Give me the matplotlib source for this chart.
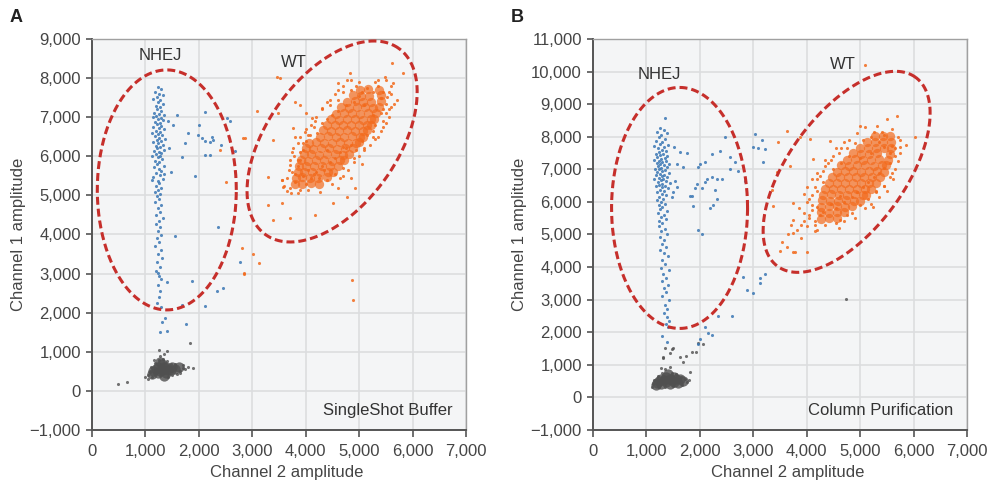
import numpy as np
import matplotlib
matplotlib.use('Agg')
import matplotlib.pyplot as plt
from matplotlib.ticker import FuncFormatter, MultipleLocator

plt.rcParams['font.family'] = ['Liberation Sans', 'DejaVu Sans']

# ---- panel A (SingleShot Buffer) ----
nhej_a = [(1230,7780),(1290,7720),(1180,7650),(1260,7600),(1320,7560),(1210,7510),(1150,7460),(1280,7440),
          (1240,7380),(1330,7330),(1190,7290),(1270,7250),(1220,7200),(1300,7160),(1160,7120),(1250,7090),
          (1350,7050),(1200,7020),(1290,6990),(1140,7000),(1240,6950),(1320,6920),(1180,6890),(1270,6860),
          (1220,6820),(1300,6780),(1150,6750),(1250,6720),(1340,6690),(1200,6650),(1280,6620),(1130,6600),
          (1230,6570),(1310,6540),(1180,6510),(1260,6480),(1360,6450),(1210,6420),(1290,6390),(1140,6360),
          (1240,6330),(1320,6300),(1190,6270),(1270,6240),(1220,6200),(1350,6170),(1160,6140),(1250,6110),
          (1300,6080),(1200,6050),(1280,6020),(1130,6000),(1240,5970),(1310,5930),(1180,5890),(1260,5850),
          (1220,5800),(1340,5760),(1160,5720),(1250,5680),(1290,5620),(1200,5570),(1270,5520),(1150,5480),
          (1320,5430),(1230,5380),(1260,5310),(1190,5250),(1300,5200),(1240,5140),(1170,5080),(1280,5030),
          (1220,4980),(1350,5560),(1120,5400),(1260,4900),(1180,4820),(1300,4750),(1230,4680),(1270,4580),
          (1200,4500),(1320,4430),(1250,4350),(1190,4260),(1280,4180),(1230,4100),(1300,3990),(1210,3900),
          (1260,3800),(1180,3700),(1290,3610),(1240,3500),(1310,3400),(1220,3300),(1270,3180),(1200,3060),
          (1250,2950),(1300,2850),(1230,2700),(1280,2550),(1250,2400),(1220,2250),(1300,2150),(1240,3020),
          (1400,2790),(1310,1770),(1370,1870),(1400,1540),(1270,1510),(1690,2190),(1760,1720),(2120,2170),
          (1520,6800),(1800,6600),(1740,6340),(1690,5980),(1990,6545),(2050,6480),(2120,6400),(2200,6370),
          (2270,6420),(2240,6500),(2120,7130),(2530,6980),(2590,6900),(2680,6140),(2120,6030),(2210,6030),
          (1930,5500),(2360,4190),(1550,3960),(1870,2810),(2340,2560),(2450,2630),(2770,3300),(2000,6800),
          (2420,6300),(1600,7050),(1450,6200),(1420,6900),(1480,5600)]

wt_a_core = [(3800,5300),(3930,5290),(4090,5310),(4250,5300),
             (3820,5450),(3930,5460),(4080,5440),(4230,5450),(4390,5460),
             (3850,5600),(3960,5590),(4110,5610),(4260,5600),(4410,5590),(4520,5610),
             (3880,5760),(4000,5760),(4150,5740),(4300,5750),(4450,5760),(4600,5740),
             (3920,5900),(4040,5890),(4190,5910),(4340,5900),(4490,5890),(4640,5910),(4720,5900),
             (3960,6050),(4090,6060),(4240,6040),(4390,6050),(4540,6060),(4690,6040),(4810,6050),
             (4010,6200),(4140,6190),(4290,6210),(4440,6200),(4590,6190),(4740,6210),(4890,6200),
             (4070,6350),(4190,6360),(4340,6340),(4490,6350),(4640,6360),(4790,6340),(4940,6350),(5000,6360),
             (4260,6490),(4410,6510),(4560,6500),(4710,6490),(4860,6510),(5010,6500),(5080,6490),
             (4330,6660),(4480,6640),(4630,6650),(4780,6660),(4930,6640),(5080,6650),(5150,6660),
             (4400,6790),(4550,6810),(4700,6800),(4850,6790),(5000,6810),(5150,6800),(5220,6790),
             (4480,6960),(4630,6940),(4780,6950),(4930,6960),(5080,6940),(5230,6950),(5280,6960),
             (4570,7090),(4720,7110),(4870,7100),(5020,7090),(5170,7110),(5320,7100),
             (4660,7260),(4810,7240),(4960,7250),(5110,7260),(5260,7240),(5380,7250),
             (4770,7390),(4920,7410),(5070,7400),(5220,7390),(5400,7410),
             (4880,7560),(5030,7540),(5180,7550),(5400,7560),
             (5020,7690),(5170,7710),(5370,7700)]

wt_a = [(3700,5200),(3800,5350),(3650,5450),(3900,5150),(3950,5500),(3750,5600),(4000,5300),(3850,5750),
        (4050,5650),(3600,5250),(3550,5400),(3580,5220),(3560,5390),(3710,5780),(4100,5450),(4200,5600),
        (4300,5750),(3900,5900),(3780,6000),(3950,6150),(4150,5550),(4250,5450),(4350,5650),(4450,5850),
        (3760,6210),(3990,6620),(3850,6350),(4000,6400),(4080,6550),(4150,6750),(4220,6600),(4300,6850),
        (4400,6950),(4500,7050),(4550,5950),(4650,6100),(4750,6200),(4850,6300),(4950,6150),(5050,6400),
        (5150,6550),(5250,6650),(5350,6500),(5300,6800),(5450,6900),(4400,6150),(4700,6250),(4120,6980),
        (4270,5090),(4700,5500),(4930,5190),(4770,4960),(4510,4800),(4180,4500),(3710,4420),(3560,4800),
        (3300,4750),(3390,4370),(3300,5470),(3390,6420),(3760,6720),(3480,7110),(3090,7160),(2830,6470),
        (3520,8000),(3460,8020),(4310,7230),(3900,7310),(3800,7390),(4450,7300),(4600,7450),(4700,7650),
        (4850,7700),(4950,7800),(5050,7650),(5150,7750),(5250,7650),(5350,7800),(5450,7650),(5400,7500),
        (5500,7350),(5550,7200),(5600,7600),(5700,7450),(5520,7520),(5360,7950),(5640,7870),(5490,8030),
        (5620,8390),(5820,8130),(4830,8130),(4610,7870),(4770,7950),(4900,7400),(5000,7550),(4750,7300),
        (4600,7150),(5400,7100),(5250,7050),(5100,7300),(5450,7200),(2400,6160),(2510,5340),(2810,3650),
        (2850,3020),(3010,3500),(3130,3270),(2850,2990),(4870,2840),(4890,2330),(2870,6470),
        (3800,5550),(3850,5900),(3900,6100),(3950,6350),(4050,6550),(4100,6800),(4200,7000),(4300,7200),
        (4400,7400),(4550,7600),(4700,7800),(4850,7950),(3700,5900),(3800,6500),(4000,7100),
        (4500,5300),(4650,5450),(4800,5650),(4900,5850),(5000,6000),(5100,6150),(5200,6300),(5300,6450),
        (5400,6650),(5500,6850),(5550,7000),(5600,7250),(5650,7350),(5600,7800),(5500,7950),(4600,5200),
        (4850,5450),(5050,5800),(3650,5100),(3720,5050),(3850,5050),(4050,5150),(4400,5400),(4550,5550),
        (3680,5650),(3750,6100),(3900,6500),(4000,6700),(4180,6900),(4450,7450),(4600,7700),(5000,7900),
        (5300,7900),(5550,7650),(5500,7100),(5450,6750),(5250,6500),(5100,6200),(4900,5950),(4700,5700)]

gray_a_core = [(1150,520),(1230,450),(1230,620),(1310,540),(1310,700),(1390,460),(1390,610),(1470,530),
               (1550,560),(1200,560),(1350,380),(1620,600),(1120,440),(1270,520),(1430,540),(1500,620),
               (1270,740),(1350,620)]

gray_a = [(1080,480),(1100,600),(1050,400),(1120,350),(1180,720),(1250,780),(1330,820),(1400,760),
          (1480,700),(1560,680),(1640,520),(1700,580),(1740,560),(1800,600),(1890,590),(1650,450),
          (1500,400),(1420,360),(990,360),(1050,300),(490,176),(660,230),(1250,1050),(1400,1020),
          (1840,1220),(1280,900),(1350,950),(1160,780),(1700,650),(1600,420)]

# ---- panel B (Column Purification) ----
nhej_b = [(1350,8570),(1250,8280),(1320,8220),(1200,8150),(1380,8100),(1280,8050),(1230,7980),(1340,7930),
          (1180,7880),(1300,7830),(1260,7780),(1400,7750),(1150,7720),(1330,7680),(1210,7640),(1290,7600),
          (1370,7560),(1240,7520),(1170,7480),(1310,7460),(1260,7430),(1390,7400),(1200,7380),(1340,7350),
          (1280,7320),(1150,7300),(1230,7270),(1360,7250),(1300,7220),(1190,7190),(1420,7170),(1260,7150),
          (1330,7120),(1210,7090),(1380,7070),(1280,7040),(1160,7020),(1240,7000),(1350,6980),(1300,6950),
          (1200,6920),(1420,6900),(1260,6870),(1330,6840),(1180,6820),(1290,6790),(1380,6760),(1230,6740),
          (1310,6710),(1150,6690),(1270,6660),(1360,6640),(1210,6610),(1440,6590),(1290,6560),(1240,6530),
          (1340,6500),(1180,6480),(1300,6450),(1400,6420),(1260,6380),(1330,6330),(1200,6290),(1290,6250),
          (1370,6200),(1240,6150),(1310,6100),(1190,6050),(1280,6000),(1350,5950),(1230,5900),(1300,5840),
          (1260,5780),(1380,5720),(1210,5660),(1320,5600),(1270,5540),(1360,5480),(1240,5420),(1300,5350),
          (1230,5260),(1340,5180),(1280,5100),(1380,5020),(1250,4920),(1320,4830),(1290,4720),(1370,4620),
          (1260,4520),(1330,4420),(1400,4330),(1290,4220),(1350,4100),(1270,3980),(1420,3900),(1310,3800),
          (1360,3680),(1290,3560),(1400,3450),(1330,3350),(1370,3220),(1300,3100),(1420,2980),(1350,2850),
          (1390,2720),(1330,2600),(1380,2480),(1430,2350),(1360,2250),(1400,2150),(1300,1900),(1390,1710),
          (2470,7980),(2230,7460),(2380,7550),(2570,7370),(2660,7210),(2720,6940),(2570,7000),(2420,6690),
          (2320,6690),(2230,6750),(2130,6690),(2100,6600),(2040,6440),(1970,7060),(2000,7150),(2100,7210),
          (1910,6440),(1850,6170),(1950,6540),(2190,5820),(2250,5920),(2320,6080),(2280,6380),(1870,5860),
          (1820,6170),(1690,7060),(1630,7520),(1570,7150),(1530,6630),(1570,6470),(1500,6290),(1480,6150),
          (1970,5150),(2040,5000),(2850,6630),(2810,3700),(2880,3300),(3000,3210),(2600,2500),(3220,3790),
          (3130,3520),(3130,3670),(2340,2500),(2100,2160),(2150,1980),(2230,1920),(2000,1790),(1970,1640),
          (1750,7500),(1520,7700),(3030,8070),(3160,7890),(3000,7700),(3220,7610),(3180,7210),(3080,7650)]

wt_b_core = [(4270,5490),(4420,5510),(4570,5500),
             (4270,5690),(4420,5670),(4570,5680),(4700,5690),
             (4270,5850),(4420,5870),(4570,5860),(4720,5850),(4850,5870),
             (4280,6050),(4430,6030),(4580,6040),(4730,6050),(4880,6030),(4990,6040),
             (4310,6210),(4460,6230),(4610,6220),(4760,6210),(4910,6230),(5060,6220),(5110,6210),
             (4350,6410),(4500,6390),(4650,6400),(4800,6410),(4950,6390),(5100,6400),(5200,6410),
             (4410,6570),(4560,6590),(4710,6580),(4860,6570),(5010,6590),(5160,6580),(5290,6570),
             (4480,6770),(4630,6750),(4780,6760),(4930,6770),(5080,6750),(5230,6760),(5370,6770),
             (4560,6930),(4710,6950),(4860,6940),(5010,6930),(5160,6950),(5310,6940),(5440,6930),
             (4650,7130),(4800,7110),(4950,7120),(5100,7130),(5250,7110),(5400,7120),(5490,7130),
             (4750,7290),(4900,7310),(5050,7300),(5200,7290),(5350,7310),(5520,7300),
             (4870,7490),(5020,7470),(5170,7480),(5320,7490),(5560,7470),
             (4990,7650),(5140,7670),(5290,7660),(5450,7650),(5580,7670),
             (5130,7850),(5280,7830),(5430,7840),(5580,7850),
             (5280,8010),(5430,8030),(5560,8020)]

wt_b = [(3820,5150),(3900,5300),(3750,5450),(4000,5250),(4050,5500),(3950,5650),(4150,5400),(4100,5750),
        (3850,5800),(4250,5600),(4200,5850),(4300,5700),(3700,5300),(3650,5000),(3780,4470),(3630,4630),
        (3540,4780),(4010,4450),(3750,5060),(3750,5980),(3370,5860),(3350,6380),(3440,6910),(3690,7090),
        (3470,7830),(3630,8170),(3880,7980),(3500,4500),(3750,4470),(3900,4900),(4150,5100),(4350,5300),
        (4630,5460),(5240,5830),(4630,6170),(4450,5950),(4550,5800),(4700,6000),(4850,6150),(4950,6300),
        (5050,6450),(5150,6600),(5250,6750),(5350,6900),(5450,7050),(5550,7200),(5620,6690),(5450,6500),
        (5300,6350),(3950,6250),(4000,6450),(4100,6700),(4200,6900),(4350,7100),(4450,7300),(4600,7500),
        (4750,7650),(4900,7800),(5050,7900),(5200,8000),(5350,7850),(5450,7700),(5550,7500),(5650,7650),
        (5600,7710),(5500,8540),(5690,8630),(6030,7980),(5000,8320),(5320,8320),(4120,7310),(4440,7860),
        (4060,7920),(5100,10200),(4300,6600),(4200,6350),(4050,6100),(4500,7000),(4650,7200),(5750,7900),
        (5850,7750),(5400,8150),(5200,7500),(5000,7350),(4800,7400),
        (4050,5600),(4100,5900),(4100,6200),(4150,6450),(4200,6700),(4300,6950),(4400,7200),(4500,7400),
        (4650,7650),(4800,7900),(4950,8100),(5100,8300),(3950,5400),(4000,6000),
        (4700,5400),(4850,5650),(5000,5900),(5150,6100),(5300,6300),(5450,6500),(5550,6750),(5650,7000),
        (5700,7250),(5750,7500),(5750,7700),(5700,8000),(5600,8250),(4600,5200),(4900,5500),(5200,5950),
        (4150,5300),(4200,5150),(4550,5350),(4750,5600),(5100,5800),(5350,6150),(5500,6350),(5600,6900),
        (4250,6800),(4350,7300),(4550,7650),(4700,7850),(5250,8150),(5450,8050),(5650,7400)]

gray_b_core = [(1200,450),(1280,400),(1280,560),(1360,470),(1360,640),(1440,420),(1440,560),(1520,480),
               (1520,640),(1600,450),(1680,500),(1180,380),(1400,720),(1320,520),(1480,520),(1560,560),
               (1240,500),(1620,560)]

gray_b = [(1120,400),(1140,520),(1100,330),(1210,650),(1300,750),(1470,760),(1560,730),(1640,620),
          (1720,560),(1760,470),(1800,520),(1660,380),(1500,340),(1350,320),(1230,320),(1350,880),
          (1270,900),(1310,1220),(1350,1520),(1480,1490),(1630,1250),(1690,1090),(1740,1280),(1850,1400),
          (1930,1400),(1820,790),(1970,1680),(2060,1650),(1440,940),(1440,1370),(1500,1520),(4740,3020),
          (1310,1250)]

panels = [
    dict(letter='A', left=92, ymax=9000, nhej=nhej_a, wt=wt_a, wt_core=wt_a_core, gray=gray_a,
         gray_core=gray_a_core, note='SingleShot Buffer',
         nhej_lbl=(1270, 8590), wt_lbl=(3780, 8410),
         ell=[((1400, 5140), 69.5, 120, 0), ((4494, 6379), 114.5, 65, 54.4)]),
    dict(letter='B', left=593, ymax=11000, nhej=nhej_b, wt=wt_b, wt_core=wt_b_core, gray=gray_b,
         gray_core=gray_b_core, note='Column Purification',
         nhej_lbl=(1250, 9920), wt_lbl=(4680, 10230),
         ell=[((1620, 5815), 68, 120.5, 0), ((4747, 6923), 117, 58.2, 53.85)]),
]

W, H = 989, 487
fig = plt.figure(figsize=(W / 100, H / 100), dpi=100)

blue = '#3b78b4'
orange = '#f26a1c'
dark = '#505050'
red = '#c62f2b'
txt = '#454545'
ax_w, ax_h = 374, 391

for p in panels:
    ax = fig.add_axes([p['left'] / W, 1 - 430 / H, ax_w / W, ax_h / H])
    ax.set_facecolor('#f4f5f6')
    ax.set_xlim(0, 7000)
    ax.set_ylim(-1000, p['ymax'])
    ax.xaxis.set_major_locator(MultipleLocator(1000))
    ax.yaxis.set_major_locator(MultipleLocator(1000))
    fmt = FuncFormatter(lambda v, pos: f'{v:,.0f}'.replace('-', '\u2212'))
    ax.xaxis.set_major_formatter(fmt)
    ax.yaxis.set_major_formatter(fmt)
    ax.grid(True, color='#dcdddf', lw=1.2)
    ax.set_axisbelow(True)

    for s in ['left', 'bottom']:
        ax.spines[s].set_color('#555555')
        ax.spines[s].set_linewidth(1.4)
    for s in ['top', 'right']:
        ax.spines[s].set_color('#a0a0a0')
        ax.spines[s].set_linewidth(1.0)
    ax.tick_params(axis='y', direction='out', length=4, width=1.2, color='#555555',
                   labelsize=12, labelcolor=txt, pad=4)
    ax.tick_params(axis='x', direction='out', length=5, width=1.2, color='#555555',
                   labelsize=12, labelcolor=txt, pad=5)

    gx, gy = np.array(p['gray_core']).T
    ax.scatter(gx, gy, s=55, color=dark, alpha=0.8, lw=0, zorder=2)
    gx, gy = np.array(p['gray']).T
    ax.scatter(gx, gy, s=5, color=dark, alpha=0.8, lw=0, zorder=2)
    bx, by = np.array(p['nhej']).T
    ax.scatter(bx, by, s=5, color=blue, alpha=0.85, lw=0, zorder=2)
    ox, oy = np.array(p['wt_core']).T
    ax.scatter(ox, oy, s=45, color=orange, alpha=0.7, lw=0, zorder=2)
    ox, oy = np.array(p['wt']).T
    ax.scatter(ox, oy, s=5, color=orange, alpha=0.85, lw=0, zorder=2)

    # dashed gates, sized in pixels so they stay true ellipses on screen
    sx = 7000 / ax_w
    sy = (p['ymax'] + 1000) / ax_h
    t = np.linspace(0, 2 * np.pi, 300)
    for (cx, cy), a, b, ang in p['ell']:
        th = np.radians(ang)
        dx = a * np.cos(t) * np.cos(th) - b * np.sin(t) * np.sin(th)
        dy = a * np.cos(t) * np.sin(th) + b * np.sin(t) * np.cos(th)
        ax.plot(cx + dx * sx, cy + dy * sy, color=red, lw=2.2,
                linestyle=(0, (2.6, 1.3)), zorder=3)

    ax.text(*p['nhej_lbl'], 'NHEJ', fontsize=12, color='#333333', ha='center', va='center')
    ax.text(*p['wt_lbl'], 'WT', fontsize=12, color='#333333', ha='center', va='center')
    ax.text(0.963, 0.05, p['note'], transform=ax.transAxes, fontsize=12, color='#333333',
            ha='right', va='center')

    ax.set_xlabel('Channel 2 amplitude', fontsize=12, color=txt)
    ax.set_ylabel('Channel 1 amplitude', fontsize=12, color=txt)
    ax.xaxis.set_label_coords(0.52, -0.09)
    ax.yaxis.set_label_coords(-0.176, 0.5)

    fig.text((p['left'] - 82) / W, 1 - 18 / H, p['letter'], fontsize=13, fontweight='bold',
             color='#222222', ha='left', va='center')

fig.savefig('out.png', dpi=100)
